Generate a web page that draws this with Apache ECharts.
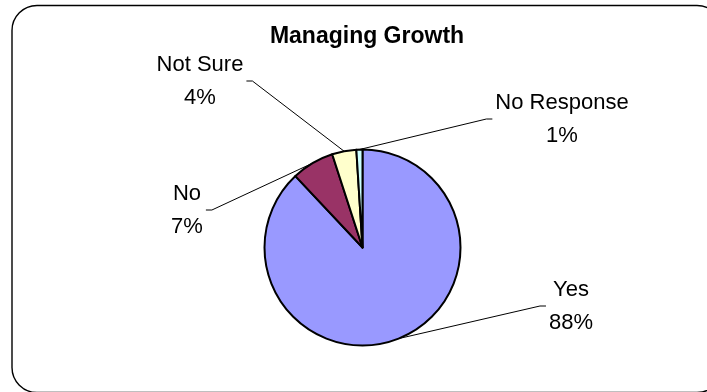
<!DOCTYPE html>
<html>
<head>
<meta charset="utf-8">
<title>Managing Growth</title>
<script src="https://cdn.jsdelivr.net/npm/echarts@6/dist/echarts.min.js"></script>
<style>
  html, body { margin: 0; padding: 0; background: #ffffff; }
  #chart { width: 707px; height: 392px; }
</style>
</head>
<body>
<div id="chart"></div>
<script>
// Survey answers and their shares (percent)
const categories = ['Yes', 'No', 'Not Sure', 'No Response'];
const shares = [88, 7, 4, 1];
const sliceColors = ['#9999FF', '#993366', '#FFFFCC', '#CCFFFF'];

// Where each two-line label block is centred on the canvas
const labelCenters = [[571, 306], [187, 210], [200, 81], [562, 119]];

const pieCenter = [362.5, 247.5];
const pieRadius = 98;

const chart = echarts.init(document.getElementById('chart'), null, { renderer: 'canvas' });

chart.setOption({
  animation: false,
  backgroundColor: '#ffffff',
  title: {
    text: 'Managing Growth',
    left: 362,
    top: 20,
    textAlign: 'center',
    textStyle: {
      fontFamily: 'Liberation Sans, Arial, sans-serif',
      fontSize: 23,
      fontWeight: 'bold',
      color: '#000000'
    }
  },
  graphic: [{
    // rounded chart-area frame, running past the right and bottom edges
    type: 'rect',
    silent: true,
    z: -1,
    shape: { x: 12, y: 5.5, width: 710, height: 387, r: 25 },
    style: { fill: 'none', stroke: '#000000', lineWidth: 1.4 }
  }],
  series: [{
    type: 'pie',
    center: pieCenter,
    radius: pieRadius,
    startAngle: 90,
    clockwise: true,
    avoidLabelOverlap: false,
    data: categories.map((name, i) => ({
      name: name,
      value: shares[i],
      itemStyle: { color: sliceColors[i] }
    })),
    itemStyle: { borderColor: '#000000', borderWidth: 2 },
    label: {
      show: true,
      position: 'outside',
      formatter: '{b}\n{d}%',
      fontFamily: 'Liberation Sans, Arial, sans-serif',
      fontSize: 22,
      lineHeight: 33,
      color: '#000000',
      align: 'center'
    },
    labelLine: {
      show: true,
      lineStyle: { color: '#000000', width: 1 }
    },
    emphasis: { disabled: true },
    labelLayout: function (params) {
      const c = labelCenters[params.dataIndex];
      const halfW = params.labelRect.width / 2;
      // leader line leaves the label on the side facing the pie
      const side = c[0] < pieCenter[0] ? 1 : -1;
      const edgeX = c[0] + side * halfW;
      const arcPt = params.labelLinePoints ? params.labelLinePoints[0] : [edgeX, c[1]];
      return {
        x: c[0],
        y: c[1],
        align: 'center',
        verticalAlign: 'middle',
        labelLinePoints: [
          arcPt,
          [edgeX + side * 9, c[1]],
          [edgeX + side * 3, c[1]]
        ]
      };
    }
  }]
});
</script>
</body>
</html>
